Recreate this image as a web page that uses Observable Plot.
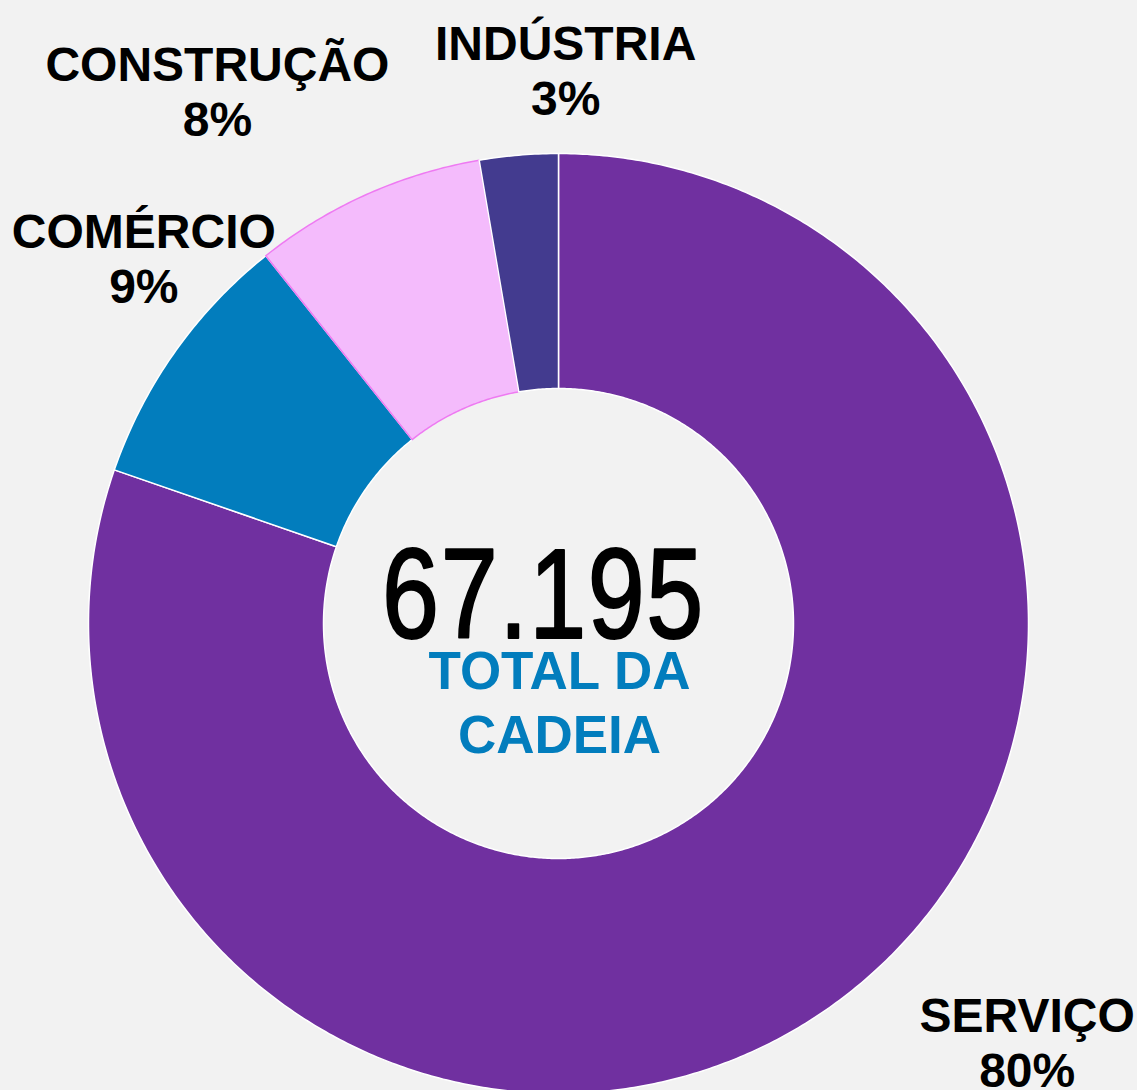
<!DOCTYPE html>
<html>
<head>
<meta charset="utf-8">
<script src="https://cdn.jsdelivr.net/npm/d3@7"></script>
<script src="https://cdn.jsdelivr.net/npm/@observablehq/plot@0.6"></script>
<style>
  html, body { margin: 0; padding: 0; background: #F2F2F2; }
  #chart { width: 1137px; height: 1090px; overflow: hidden; }
</style>
</head>
<body>
<div id="chart"></div>
<script>
// ---- Data ----
const categories = ["SERVIÇO", "COMÉRCIO", "CONSTRUÇÃO", "INDÚSTRIA"];
const shares = [80.3, 9.0, 8.0, 2.7];          // percent of total
const total = 67195;
const centerCaption = "TOTAL DA\nCADEIA";

// ---- Styles ----
const fillColors = ["#7030A0", "#027DBD", "#F4BBFC", "#433B8F"];
const strokeColors = ["#FFFFFF", "#FFFFFF", "#EE7AF2", "#FFFFFF"];
const labelOffsets = [[196, 81], [-31, -49], [-149, -59], [47, -40]]; // px offset from slice mid-point on outer edge

// ---- Layout ----
const W = 1137, H = 1090, CX = 558, CY = 623, R = 470, INNER = 0.5;
const NARROW = 0.80; // Arial Narrow-like horizontal compression for the big total

const cum = [0];
shares.forEach((s, i) => cum.push(cum[i] + s));
const sum = cum[cum.length - 1];

function slicePoints(i) {
  const a0 = cum[i] / sum * 2 * Math.PI, a1 = cum[i + 1] / sum * 2 * Math.PI;
  const n = Math.max(2, Math.ceil((a1 - a0) / (Math.PI / 360)));
  const pts = [];
  for (let k = 0; k <= n; k++) {
    const a = a0 + (a1 - a0) * k / n;
    pts.push({name: categories[i], x: Math.sin(a), y: Math.cos(a)});
  }
  for (let k = n; k >= 0; k--) {
    const a = a0 + (a1 - a0) * k / n;
    pts.push({name: categories[i], x: INNER * Math.sin(a), y: INNER * Math.cos(a)});
  }
  return pts;
}

const labels = categories.map((name, i) => {
  const a = (cum[i] + cum[i + 1]) / 2 / sum * 2 * Math.PI;
  return {name, x: Math.sin(a), y: Math.cos(a), text: `${name}\n${Math.round(shares[i])}%`};
});

const ptBR = d3.formatLocale({decimal: ",", thousands: ".", grouping: [3], currency: ["R$", ""]});
const totalText = ptBR.format(",d")(total);

const sliceMarks = categories.map((name, i) =>
  Plot.line(slicePoints(i), {
    x: "x", y: "y", curve: "linear-closed",
    fill: fillColors[i], stroke: strokeColors[i], strokeWidth: 1.5, strokeLinejoin: "round"
  })
);

const labelMarks = labels.map((d, i) =>
  Plot.text([d], {
    x: "x", y: "y", text: "text",
    dx: labelOffsets[i][0], dy: labelOffsets[i][1],
    lineAnchor: "bottom", lineHeight: 55 / 48,
    fontFamily: "Liberation Sans, Arial, sans-serif", fontWeight: "bold", fontSize: 48,
    fill: "#000000"
  })
);

const chart = Plot.plot({
  width: W, height: H,
  marginTop: 0, marginRight: 0, marginBottom: 0, marginLeft: 0,
  x: {domain: [-CX / R, (W - CX) / R], axis: null},
  y: {domain: [(CY - H) / R, CY / R], axis: null},
  style: {background: "#F2F2F2", overflow: "hidden"},
  marks: [
    ...sliceMarks,
    ...labelMarks,
    Plot.text([{x: 0, y: 0, text: totalText}], {
      x: "x", y: "y", text: "text", dx: -15, dy: 14, lineAnchor: "bottom",
      fontFamily: "Liberation Sans, Arial, sans-serif", fontWeight: "normal",
      fontSize: 128, fill: "#000000", stroke: "#000000", strokeWidth: 2.2
    }),
    Plot.text([{x: 0, y: 0, text: centerCaption}], {
      x: "x", y: "y", text: "text", dx: 1, dy: 129, lineAnchor: "bottom", lineHeight: 64 / 53,
      fontFamily: "Liberation Sans, Arial, sans-serif", fontWeight: "bold", fontSize: 53,
      fill: "#027DBD"
    })
  ]
});
document.getElementById("chart").appendChild(chart);

// Condense the big total horizontally (no narrow font installed)
d3.select(chart).selectAll("text").each(function () {
  if (this.textContent !== totalText) return;
  this.style.letterSpacing = "2px";
  const bb = this.getBBox();
  const cx = bb.x + bb.width / 2;
  const t = this.getAttribute("transform") || "";
  this.setAttribute("transform", `${t} translate(${cx},0) scale(${NARROW},1) translate(${-cx},0)`);
});
</script>
</body>
</html>
